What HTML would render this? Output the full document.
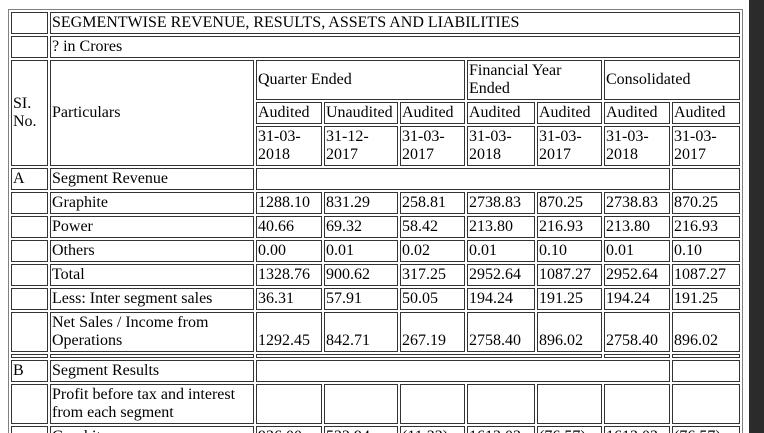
<!DOCTYPE html>
<html><head><meta charset="utf-8">
<style>
html,body{margin:0;padding:0;background:#fff;overflow:hidden;width:764px;height:433px}
.wrap{position:absolute;left:0;top:0;width:749px;height:433px;overflow:hidden}
table{position:absolute;left:8px;top:9px;border:1px solid #808080;border-spacing:2px;table-layout:fixed;width:735px;font-family:"Liberation Serif",serif;font-size:16px;line-height:18px;color:#000}
td{border:1px solid #333;padding:1px;vertical-align:middle;overflow:hidden}
td.n{vertical-align:bottom}
.sb{position:absolute;left:749px;top:0;width:15px;height:433px;background:#2b2b2b}
.th{position:absolute;left:752px;top:18px;width:9px;height:402px;background:#9f9f9f;border-radius:4px}
.up{position:absolute;left:752px;top:6px;width:0;height:0;border-left:4.5px solid transparent;border-right:4.5px solid transparent;border-bottom:6px solid #9f9f9f}
.dn{position:absolute;left:752px;top:423px;width:0;height:0;border-left:4.5px solid transparent;border-right:4.5px solid transparent;border-top:6px solid #9f9f9f}
</style></head><body>
<div class="wrap">
<table>
<colgroup><col style="width:37px"><col style="width:204px"><col style="width:66px"><col style="width:74px"><col style="width:65px"><col style="width:68px"><col style="width:65px"><col style="width:66px"><col style="width:68px"></colgroup>
<tr><td></td><td colspan="8">SEGMENTWISE REVENUE, RESULTS, ASSETS AND LIABILITIES</td></tr>
<tr><td></td><td colspan="8">? in Crores</td></tr>
<tr><td rowspan="3">SI. No.</td><td rowspan="3">Particulars</td><td colspan="3" style="height:36px">Quarter Ended</td><td colspan="2">Financial Year Ended</td><td colspan="2">Consolidated</td></tr>
<tr><td>Audited</td><td>Unaudited</td><td>Audited</td><td>Audited</td><td>Audited</td><td>Audited</td><td>Audited</td></tr>
<tr><td>31-03-2018</td><td>31-12-2017</td><td>31-03-2017</td><td>31-03-2018</td><td>31-03-2017</td><td>31-03-2018</td><td>31-03-2017</td></tr>
<tr><td>A</td><td>Segment Revenue</td><td colspan="6"></td><td></td></tr>
<tr><td></td><td>Graphite</td><td>1288.10</td><td>831.29</td><td>258.81</td><td>2738.83</td><td>870.25</td><td>2738.83</td><td>870.25</td></tr>
<tr><td></td><td>Power</td><td>40.66</td><td>69.32</td><td>58.42</td><td>213.80</td><td>216.93</td><td>213.80</td><td>216.93</td></tr>
<tr><td></td><td>Others</td><td>0.00</td><td>0.01</td><td>0.02</td><td>0.01</td><td>0.10</td><td>0.01</td><td>0.10</td></tr>
<tr><td></td><td>Total</td><td>1328.76</td><td>900.62</td><td>317.25</td><td>2952.64</td><td>1087.27</td><td>2952.64</td><td>1087.27</td></tr>
<tr><td></td><td>Less: Inter segment sales</td><td>36.31</td><td>57.91</td><td>50.05</td><td>194.24</td><td>191.25</td><td>194.24</td><td>191.25</td></tr>
<tr><td></td><td>Net Sales / Income from Operations</td><td class="n">1292.45</td><td class="n">842.71</td><td class="n">267.19</td><td class="n">2758.40</td><td class="n">896.02</td><td class="n">2758.40</td><td class="n">896.02</td></tr>
<tr><td></td><td></td><td colspan="5"></td><td></td><td></td></tr>
<tr><td>B</td><td>Segment Results</td><td colspan="6"></td><td></td></tr>
<tr><td></td><td>Profit before tax and interest from each segment</td><td></td><td></td><td></td><td></td><td></td><td></td><td></td></tr>
<tr><td></td><td>Graphite</td><td>936.00</td><td>522.94</td><td>(11.33)</td><td>1613.03</td><td>(76.57)</td><td>1613.03</td><td>(76.57)</td></tr>
</table>
</div>
<div class="sb"><div class="up"></div><div class="th"></div><div class="dn"></div></div>
</body></html>
